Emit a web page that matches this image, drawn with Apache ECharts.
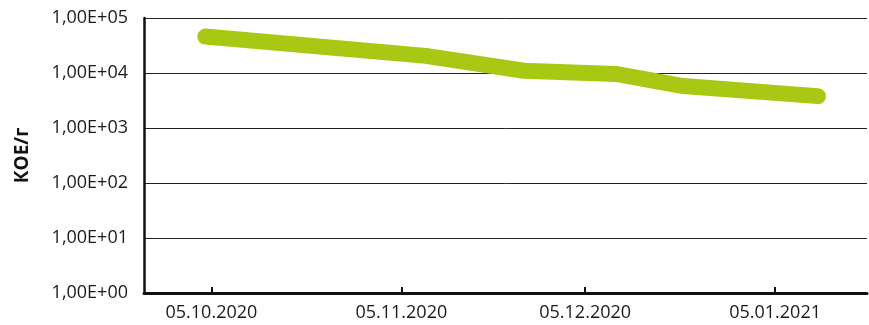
<!DOCTYPE html>
<html>
<head>
<meta charset="utf-8">
<style>
  html, body { margin: 0; padding: 0; background: #fff; }
  #chart { width: 869px; height: 325px; }
</style>
<script src="https://cdn.jsdelivr.net/npm/echarts@6/dist/echarts.min.js"></script>
</head>
<body>
<div id="chart"></div>
<script>
// Sampling dates and colony counts (CFU per gram)
const sampleDates = ['2020-10-04', '2020-11-09', '2020-11-25', '2020-12-10', '2020-12-21', '2021-01-12'];
const cfuValues = [46000, 20500, 11000, 9600, 5800, 3800];

// Dates shown on the horizontal axis
const tickDates = ['2020-10-05', '2020-11-05', '2020-12-05', '2021-01-05'];
const axisStart = '2020-09-24';
const axisEnd = '2021-01-20';

const yAxisTitle = 'КОЕ/г';

function toTime(s) {
  const p = s.split('-').map(Number);
  return Date.UTC(p[0], p[1] - 1, p[2]);
}
function pad2(n) { return (n < 10 ? '0' : '') + n; }
function fmtDate(t) {
  const d = new Date(t);
  return pad2(d.getUTCDate()) + '.' + pad2(d.getUTCMonth() + 1) + '.' + d.getUTCFullYear();
}
function fmtSci(v) {
  const exp = Math.round(Math.log10(v));
  const mant = v / Math.pow(10, exp);
  return mant.toFixed(2).replace('.', ',') + 'E+' + pad2(exp);
}

const tickTimes = tickDates.map(toTime);
const seriesData = sampleDates.map((d, i) => [toTime(d), cfuValues[i]]);

const chart = echarts.init(document.getElementById('chart'), null, { renderer: 'canvas' });
chart.setOption({
  animation: false,
  grid: { left: 144, right: 2, top: 18, bottom: 32 },
  xAxis: {
    // timestamps on a linear scale, labelled only at the chosen dates
    type: 'value',
    min: toTime(axisStart),
    max: toTime(axisEnd),
    axisLine: { show: true, onZero: false, lineStyle: { color: '#111', width: 3 } },
    axisTick: {
      show: true,
      inside: true,
      length: 6,
      customValues: tickTimes,
      lineStyle: { color: '#111', width: 2 }
    },
    axisLabel: {
      customValues: tickTimes,
      formatter: fmtDate,
      color: '#1a1a1a',
      fontFamily: 'Open Sans',
      fontSize: 18,
      margin: 11
    },
    splitLine: { show: false }
  },
  yAxis: {
    type: 'log',
    logBase: 10,
    min: 1,
    max: 100000,
    splitNumber: 5,
    name: yAxisTitle,
    nameLocation: 'middle',
    nameGap: 112,
    nameTextStyle: { fontFamily: 'Open Sans', fontWeight: 'bold', fontSize: 19, color: '#111' },
    axisLine: { show: true, lineStyle: { color: '#111', width: 2.5 } },
    axisTick: { show: false },
    axisLabel: {
      formatter: fmtSci,
      color: '#1a1a1a',
      fontFamily: 'Open Sans',
      fontSize: 18,
      margin: 16
    },
    splitLine: { show: true, lineStyle: { color: '#222', width: 1 } }
  },
  series: [{
    type: 'line',
    data: seriesData,
    symbol: 'none',
    lineStyle: { color: '#a9c814', width: 16, cap: 'round', join: 'round' }
  }]
});
</script>
</body>
</html>
